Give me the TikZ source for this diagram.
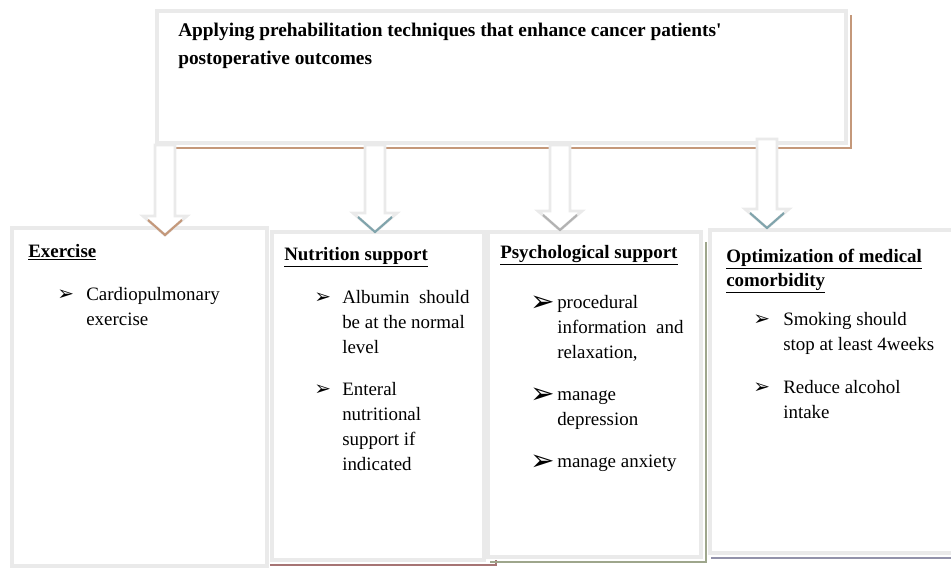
\documentclass[tikz,border=0pt]{standalone}
\usepackage{fontspec}
\setmainfont{Liberation Serif}[Ligatures=TeXOff]
\newfontfamily\symfont{DejaVu Sans}
\usetikzlibrary{calc,fit}
\definecolor{tanc}{RGB}{196,152,122}
\definecolor{tealc}{RGB}{128,164,172}
\definecolor{greyc}{RGB}{178,178,178}
\definecolor{rosec}{RGB}{166,116,116}
\definecolor{olivec}{RGB}{158,166,140}
\definecolor{slatec}{RGB}{146,146,170}
\definecolor{rimc}{RGB}{234,234,234}
\tikzset{
  panel/.style={draw=rimc,line width=3pt,fill=white,inner sep=0pt},
  shade/.style={line width=1.6pt},
  title/.style={font=\fontsize{14.5}{21}\selectfont\bfseries,align=left,anchor=base west,inner sep=0pt},
  head/.style={font=\fontsize{14.2}{18}\selectfont\bfseries,align=left,anchor=base west,inner sep=0pt},
  item/.style={font=\fontsize{14.2}{18.75}\selectfont,align=left,anchor=base west,inner sep=0pt},
  bul/.style={font=\symfont\fontsize{15}{15}\selectfont,anchor=base west,inner sep=0pt},
  bigbul/.style={font=\symfont\fontsize{22}{22}\selectfont,anchor=base west,inner sep=0pt},
  shaft/.style={draw=rimc,line width=2.2pt,fill=white,line join=miter},
  tip/.style={draw=#1,line width=1.6pt}
}

\begin{document}
\begin{tikzpicture}[x=0.75pt,y=-0.75pt]
    \useasboundingbox (0,0) rectangle (951,568);

    % The main box and its four branches
    \node[panel,fit={(157,11) (846,143)}] (top) {};
    \draw[shade,tanc] ([shift={(3,6)}]top.north east) -- ([shift={(3,3)}]top.south east) -- ([shift={(4,3)}]top.south west);

    \node[panel,fit={(12,228) (267,566)}] (ex) {};
    \node[panel,fit={(272,232) (484,560)}] (nu) {};
    \node[panel,fit={(488,232) (701,557)}] (ps) {};
    \node[panel,fit={(710,230) (958,553)}] (op) {};

    % Coloured shadows under the boxes
    \draw[shade,rosec] ([shift={(0,3)}]nu.south west) -- ([shift={(10,3)}]nu.south east) -- ++(0,-5);
    \draw[shade,olivec] ([shift={(3,12)}]ps.north east) -- ([shift={(3,3)}]ps.south east) -- ([shift={(4,3)}]ps.south west);
    \draw[shade,slatec] ([shift={(3,3)}]op.south west) -- ([shift={(3,3)}]op.south east);

    % Block arrows from the main box
    \foreach \nm/\x/\dy/\dt/\c in {ex/165/0/9/tanc, nu/375/0/2/tealc, ps/560/0/0/greyc, op/767/-6/0/tealc}{
      \coordinate (s\nm) at ($(top.south -| \x,0)+(0,\dy)$);
      \coordinate (t\nm) at ($(\nm.north -| \x,0)+(0,\dt)$);
      \draw[shaft] ($(s\nm)+(-10,0)$) -- ($(t\nm)+(-10,-19)$) -- ($(t\nm)+(-22,-19)$) -- (t\nm)
        -- ($(t\nm)+(22,-19)$) -- ($(t\nm)+(10,-19)$) -- ($(s\nm)+(10,0)$) -- cycle;
      \draw[tip=\c] ($(t\nm)+(-17,-15)$) -- (t\nm) -- ($(t\nm)+(17,-15)$);
    }

    % Texts (a node's base is the baseline of its last line)
    \node[title] (ttl) at (178,64) {Applying prehabilitation techniques that enhance cancer patients'\\postoperative outcomes};

    \node[head] (exh) at (28,257) {\underline{Exercise}};
    \node[bul] (ex1b) at (57,300) {➢};
    \node[item] (ex1) at (86,325) {Cardiopulmonary\\exercise};

    \node[head] (nuh) at (284,260) {\underline{Nutrition support}};
    \node[bul] (nu1b) at (314,303) {➢};
    \node[item] (nu1) at (342,353) {Albumin\ \ should\\be at the normal\\level};
    \node[bul] (nu2b) at (314,395) {➢};
    \node[item] (nu2) at (342,470) {Enteral\\nutritional\\support if\\indicated};

    \node[head] (psh) at (500,258) {\underline{Psychological support}};
    \node[bigbul] (ps1b) at (530,311) {➢};
    \node[item] (ps1) at (557,358) {procedural\\information\ \ and\\relaxation,};
    \node[bigbul] (ps2b) at (530,403) {➢};
    \node[item] (ps2) at (557,425) {manage\\depression};
    \node[bigbul] (ps3b) at (530,470) {➢};
    \node[item] (ps3) at (557,467) {manage anxiety};

    \node[head] (oph) at (726,286) {\underline{Optimization of medical}\\\underline{comorbidity}};
    \node[bul] (op1b) at (753,325) {➢};
    \node[item] (op1) at (783,350) {Smoking should\\stop at least 4weeks};
    \node[bul] (op2b) at (753,393) {➢};
    \node[item] (op2) at (783,418) {Reduce alcohol\\intake};
\end{tikzpicture}
\end{document}
